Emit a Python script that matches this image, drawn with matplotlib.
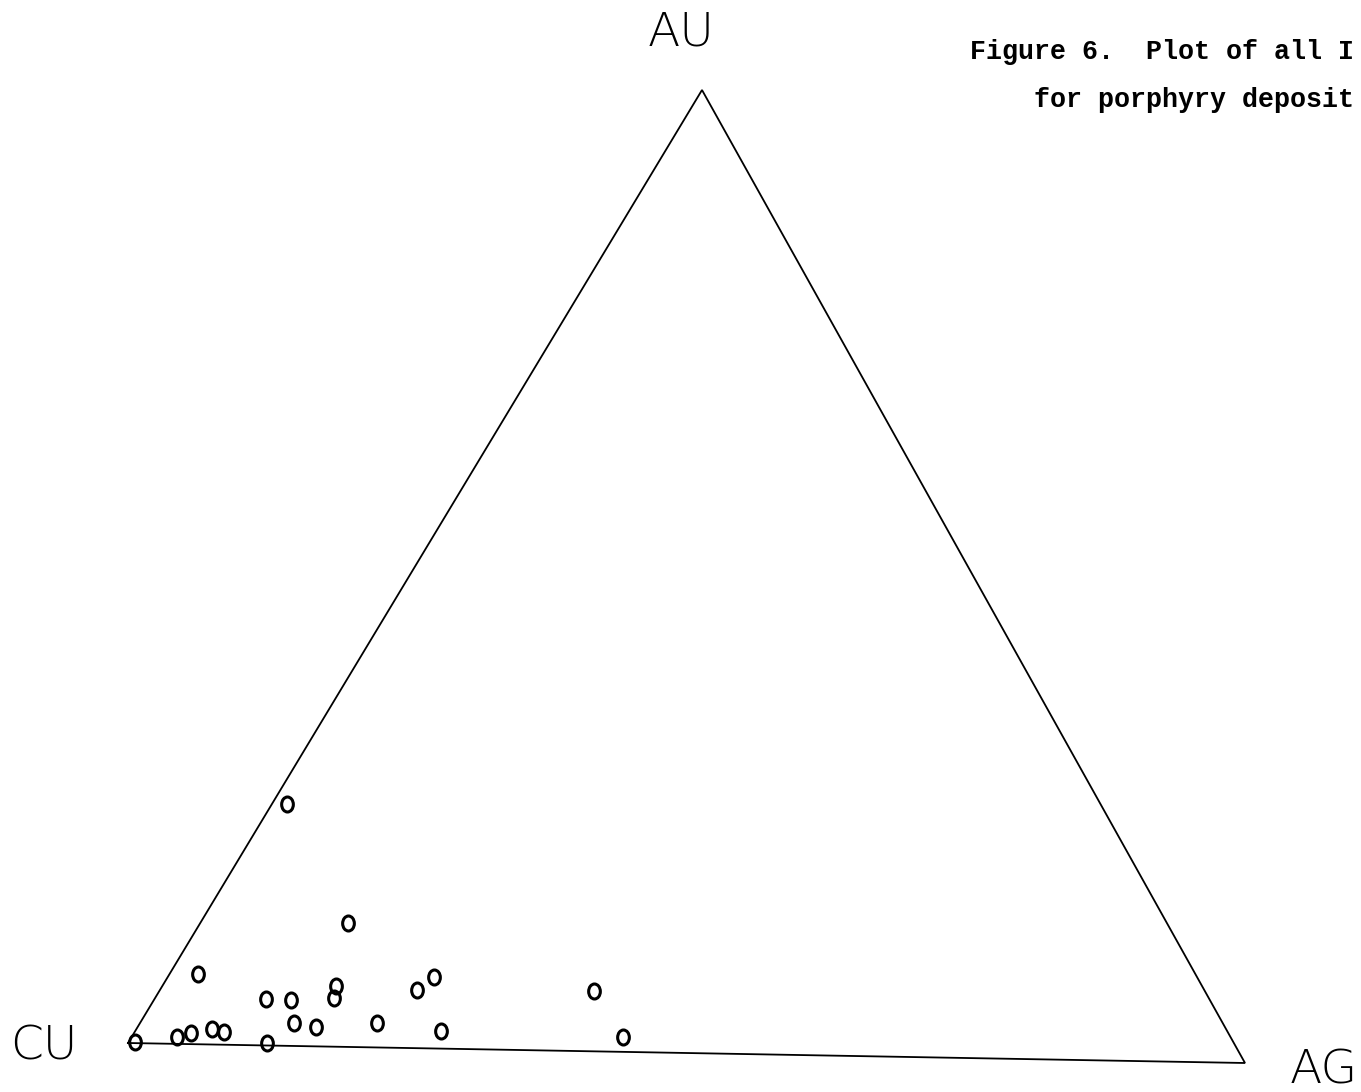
import matplotlib
matplotlib.use("Agg")
import matplotlib.pyplot as plt
import numpy as np
from matplotlib.path import Path
from matplotlib.transforms import Affine2D

# ---- data: ternary compositions (percent) ----
au_pct = [25.1, 12.9, 7.3, 0.1, 0.7, 1.2, 1.6, 1.3, 4.8, 4.8, 0.3,
          2.4, 2.0, 6.3, 5.1, 2.5, 6.0, 7.4, 1.8, 6.3, 1.5]
ag_pct = [1.3, 13.1, 2.5, 0.6, 4.0, 5.0, 6.7, 7.9, 9.9, 12.1, 12.3,
          13.6, 15.8, 15.4, 15.8, 21.0, 22.8, 23.6, 27.1, 38.5, 43.5]
cu_pct = [100 - a - g for a, g in zip(au_pct, ag_pct)]
vertex_labels = ["CU", "AU", "AG"]
caption_lines = ["Figure 6.  Plot of all I", "for porphyry deposit"]

# ---- layout (canvas pixel coordinates of the triangle vertices) ----
W, H = 1361, 1092
V_CU = np.array([128.0, 1043.0])
V_AU = np.array([702.0, 90.0])
V_AG = np.array([1245.0, 1063.0])

fig = plt.figure(figsize=(W / 100, H / 100), dpi=100)
ax = fig.add_axes([0, 0, 1, 1])
ax.set_xlim(0, W)
ax.set_ylim(H, 0)
ax.axis("off")

# triangle
tri = np.array([V_CU, V_AU, V_AG, V_CU])
ax.plot(tri[:, 0], tri[:, 1], color="black", lw=1.3, solid_joinstyle="miter")

# points
cu = np.array(cu_pct) / 100
au = np.array(au_pct) / 100
ag = np.array(ag_pct) / 100
px = cu * V_CU[0] + au * V_AU[0] + ag * V_AG[0]
py = cu * V_CU[1] + au * V_AU[1] + ag * V_AG[1]

ell = Path.unit_circle().transformed(Affine2D().scale(0.78, 1.0))
ax.plot(px, py, linestyle="none", marker=ell, markersize=10.8,
        markerfacecolor="none", markeredgecolor="black", markeredgewidth=2.2)

# vertex labels
lab_font = dict(family="DejaVu Sans", fontsize=34, color="black", weight="light")
ax.text(44, 1047, vertex_labels[0], ha="center", va="center", **lab_font)
ax.text(681, 32, vertex_labels[1], ha="center", va="center", **lab_font)
ax.text(1324, 1070, vertex_labels[2], ha="center", va="center", **lab_font)

# caption (typewritten, at the top right)
cap_font = dict(family="Liberation Mono", fontsize=19.2, color="black",
                weight="bold")
ax.text(970, 59, caption_lines[0], ha="left", va="baseline", **cap_font)
ax.text(1034, 107, caption_lines[1], ha="left", va="baseline", **cap_font)

fig.savefig("out.png", dpi=100)
